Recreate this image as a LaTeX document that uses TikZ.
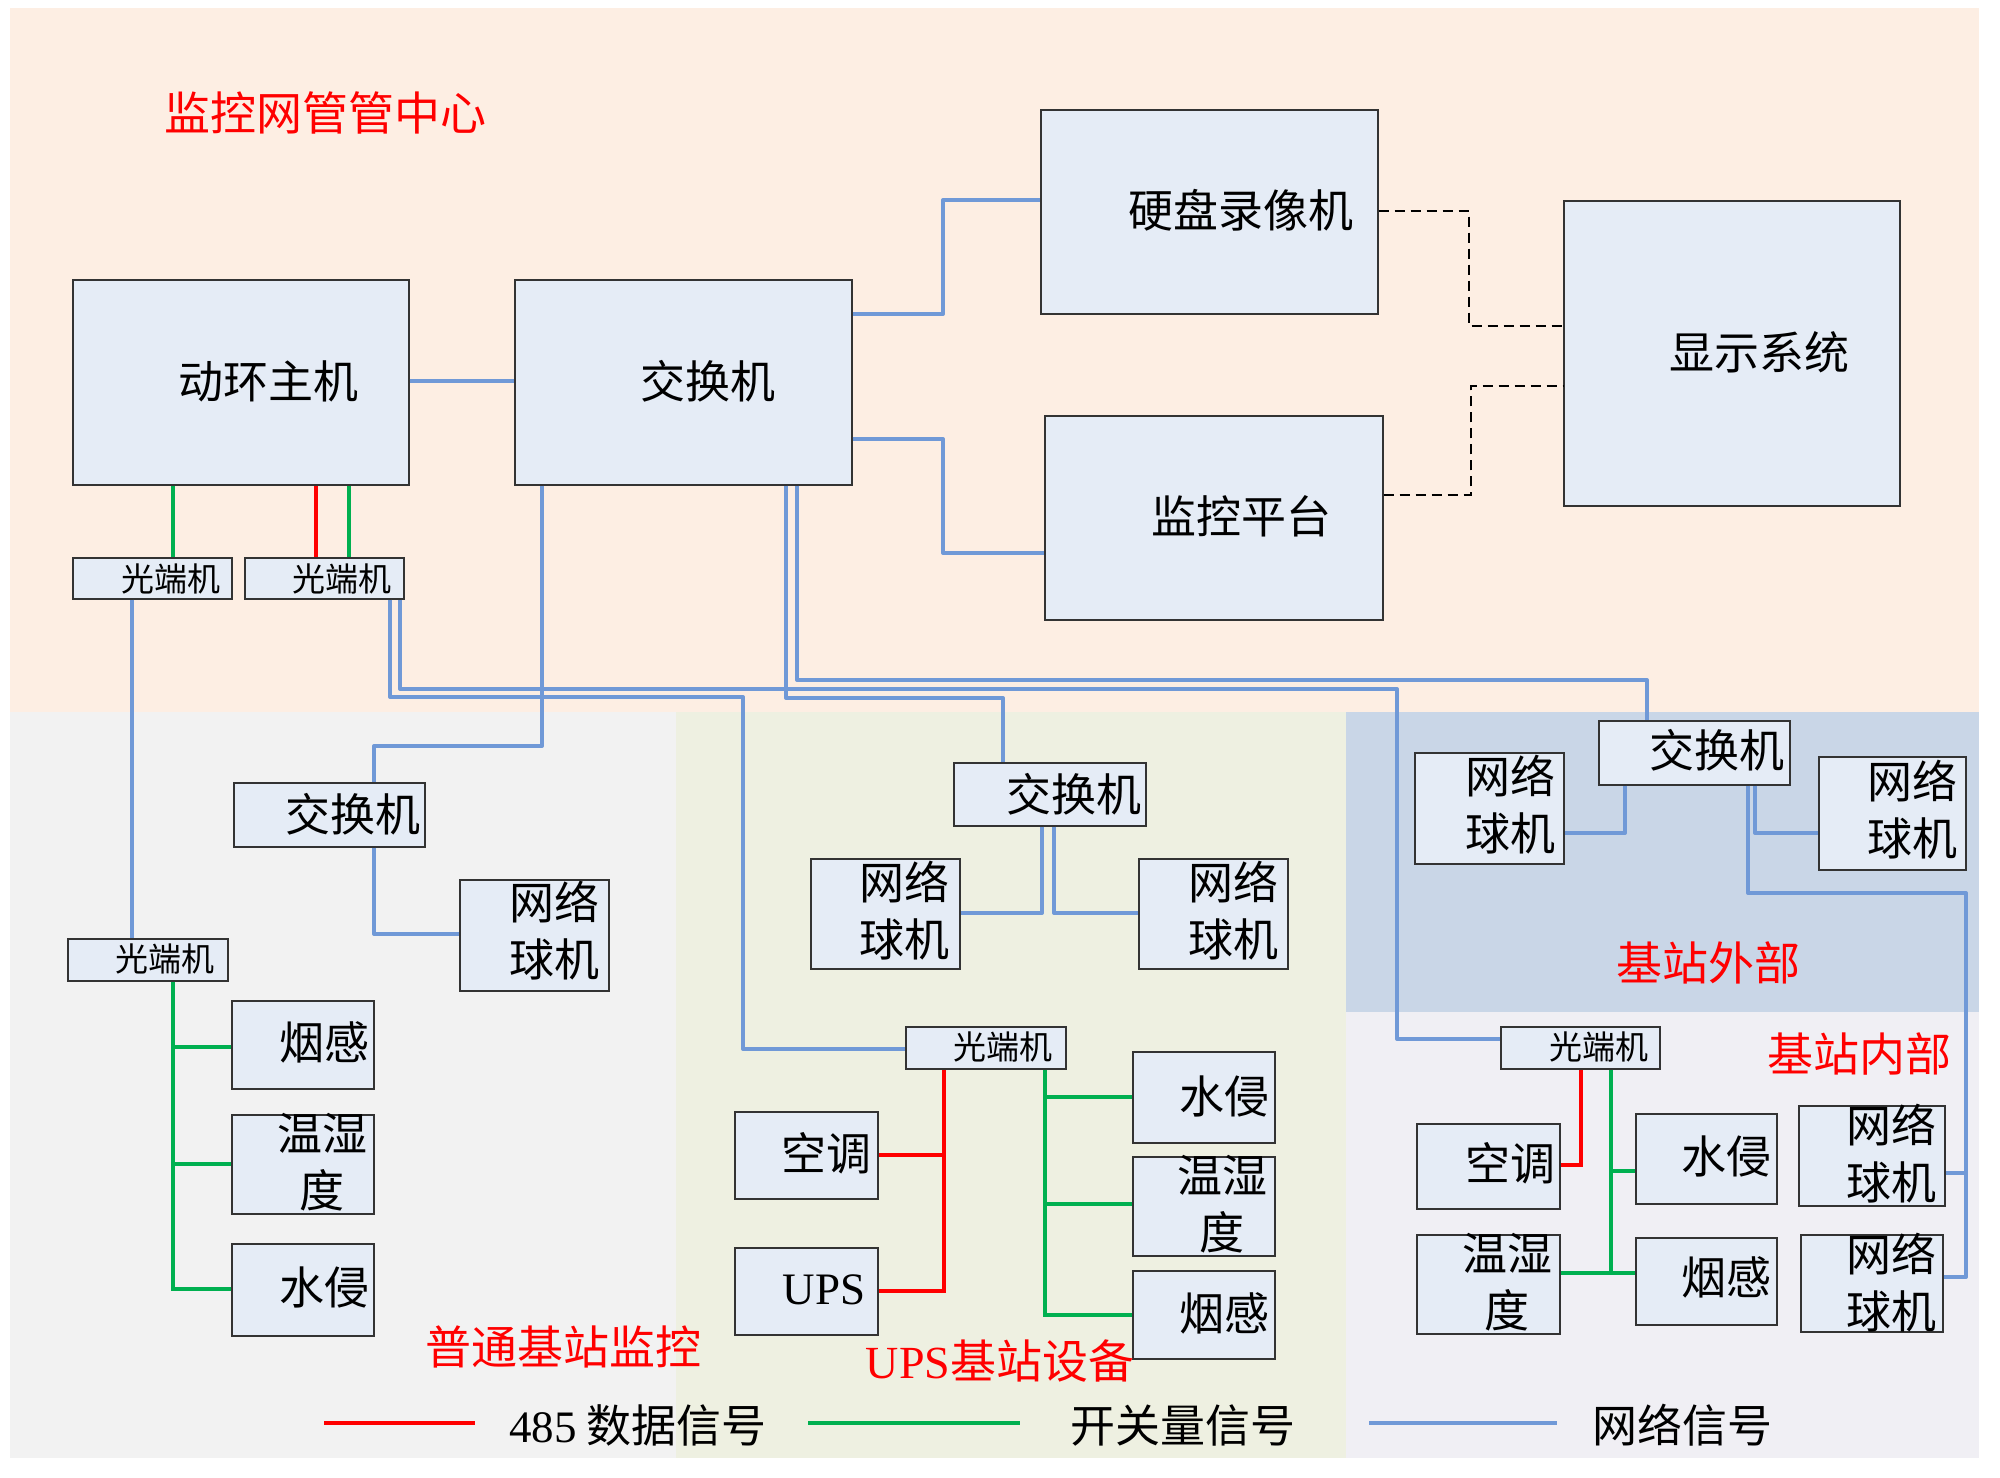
\documentclass[tikz,border=0pt]{standalone}
\usepackage{fontspec}
\setmainfont{Liberation Serif}
\newfontfamily\cjk{Noto Sans CJK SC}
\usetikzlibrary{fit}
\definecolor{peach}{HTML}{FDEEE3}
\definecolor{graybg}{HTML}{F2F2F2}
\definecolor{greenbg}{HTML}{EEF0E1}
\definecolor{bluebg}{HTML}{C9D6E7}
\definecolor{lavbg}{HTML}{F0EFF4}
\definecolor{boxfill}{HTML}{E5ECF6}
\definecolor{netblue}{HTML}{7099D7}
\definecolor{swgreen}{HTML}{00B050}
\newcommand\mybox[5]{\node[box, fit={(#2,#3) (#4,#5)}] (#1) {};}
\begin{document}
\begin{tikzpicture}[x=0.5pt,y=-0.5pt,
  box/.style={draw=black!80, fill=boxfill, line width=0.7pt, inner sep=0pt},
  txt/.style={font=\cjk\fontsize{22.5}{28.5}\selectfont, inner sep=0pt, align=center},
  stxt/.style={font=\cjk\fontsize{16.5}{20}\selectfont, inner sep=0pt},
  rtxt/.style={font=\cjk\fontsize{23}{28}\selectfont, inner sep=0pt, text=red},
  net/.style={draw=netblue, line width=2pt, line join=round},
  rs/.style={draw=red, line width=2pt},
  gs/.style={draw=swgreen, line width=2pt},
  dsh/.style={draw=black, line width=0.8pt, dash pattern=on 5pt off 3pt}]
\useasboundingbox (0,0) rectangle (2000,1477);
% backgrounds
\fill[peach] (10,8) rectangle (1979,712);
\fill[graybg] (10,712) rectangle (676,1458);
\fill[greenbg] (676,712) rectangle (1346,1458);
\fill[bluebg] (1346,712) rectangle (1979,1012);
\fill[lavbg] (1346,1012) rectangle (1979,1458);
% boxes
\mybox{dh}{73}{280}{409}{485}
\mybox{sw0}{515}{280}{852}{485}
\mybox{nvr}{1041}{110}{1378}{314}
\mybox{plat}{1045}{416}{1383}{620}
\mybox{disp}{1564}{201}{1900}{506}
\mybox{o1}{73}{558}{232}{599}
\mybox{o2}{245}{558}{404}{599}
\mybox{swL}{234}{783}{425}{847}
\mybox{camL}{460}{880}{609}{991}
\mybox{o3}{68}{939}{228}{981}
\mybox{smokeL}{232}{1001}{374}{1089}
\mybox{thL}{232}{1115}{374}{1214}
\mybox{waterL}{232}{1244}{374}{1336}
\mybox{swM}{954}{763}{1146}{826}
\mybox{camMa}{811}{859}{960}{969}
\mybox{camMb}{1139}{859}{1288}{969}
\mybox{oM}{906}{1027}{1066}{1069}
\mybox{acM}{735}{1112}{878}{1199}
\mybox{ups}{735}{1248}{878}{1335}
\mybox{waterM}{1133}{1052}{1275}{1143}
\mybox{thM}{1133}{1157}{1275}{1256}
\mybox{smokeM}{1133}{1271}{1275}{1359}
\mybox{swR}{1599}{721}{1790}{785}
\mybox{camRa}{1415}{753}{1564}{864}
\mybox{camRb}{1819}{757}{1966}{870}
\mybox{oR}{1501}{1027}{1660}{1069}
\mybox{acR}{1417}{1124}{1560}{1209}
\mybox{waterR}{1636}{1114}{1777}{1204}
\mybox{smokeR}{1636}{1238}{1777}{1325}
\mybox{thR}{1417}{1235}{1560}{1334}
\mybox{camRc}{1799}{1106}{1945}{1206}
\mybox{camRd}{1801}{1235}{1943}{1332}
% texts
\node[rtxt] (tA) at (325,113) {监控网管管中心};
\node[txt] (t1) at (268,381) {动环主机};
\node[txt] (t2) at (708,381) {交换机};
\node[txt] (t3) at (1241,210) {硬盘录像机};
\node[txt] (t4) at (1241,516) {监控平台};
\node[txt] (t5) at (1759,352) {显示系统};
\node[stxt] (t6) at (171,579) {光端机};
\node[stxt] (t7) at (342,579) {光端机};
\node[txt] (t8) at (353,814) {交换机};
\node[txt] (t9) at (554,931) {网络\\球机};
\node[stxt] (t10) at (165,959) {光端机};
\node[txt] (t11) at (324,1042) {烟感};
\node[txt] (t12) at (322,1162) {温湿\\度};
\node[txt] (t13) at (324,1287) {水侵};
\node[txt] (t14) at (1074,794) {交换机};
\node[txt] (t15) at (904,911) {网络\\球机};
\node[txt] (t16) at (1233,911) {网络\\球机};
\node[stxt] (t17) at (1003,1047) {光端机};
\node[txt] (t18) at (826,1153) {空调};
\node[font=\fontsize{22.5}{27}\selectfont, inner sep=0pt] (t19) at (824,1290) {UPS};
\node[txt] (t20) at (1224,1096) {水侵};
\node[txt] (t21) at (1222,1204) {温湿\\度};
\node[txt] (t22) at (1224,1313) {烟感};
\node[rtxt] (tB) at (563,1347) {普通基站监控};
\node[rtxt] (tC) at (1000,1361) {{\rmfamily UPS}基站设备};
\node[txt] (t23) at (1717,750) {交换机};
\node[txt] (t24) at (1510,805) {网络\\球机};
\node[txt] (t25) at (1912,810) {网络\\球机};
\node[rtxt] (tD) at (1708,963) {基站外部};
\node[rtxt] (tE) at (1859,1054) {基站内部};
\node[stxt] (t26) at (1599,1047) {光端机};
\node[txt] (t27) at (1510,1163) {空调};
\node[txt] (t28) at (1726,1156) {水侵};
\node[txt] (t29) at (1507,1282) {温湿\\度};
\node[txt] (t30) at (1726,1277) {烟感};
\node[txt] (t31) at (1891,1154) {网络\\球机};
\node[txt] (t32) at (1891,1283) {网络\\球机};
% top connectors
\draw[net] (dh.east |- 0,381) -- (sw0.west |- 0,381);
\draw[net] (sw0.east |- 0,314) -- (943,314) -- (943,200) -- (nvr.west |- 0,200);
\draw[net] (sw0.east |- 0,439) -- (943,439) -- (943,553) -- (plat.west |- 0,553);
\draw[dsh] (nvr.east |- 0,211) -- (1469,211) -- (1469,326) -- (disp.west |- 0,326);
\draw[dsh] (plat.east |- 0,495) -- (1471,495) -- (1471,386) -- (disp.west |- 0,386);
\draw[gs] (dh.south -| 173,0) -- (o1.north -| 173,0);
\draw[rs] (dh.south -| 316,0) -- (o2.north -| 316,0);
\draw[gs] (dh.south -| 349,0) -- (o2.north -| 349,0);
% long network lines
\draw[net] (o1.south -| 132,0) -- (o3.north -| 132,0);
\draw[net] (o2.south -| 400,0) -- (400,689) -- (1397,689) -- (1397,1039) -- (oR.west |- 0,1039);
\draw[net] (o2.south -| 390,0) -- (390,697) -- (743,697) -- (743,1049) -- (oM.west |- 0,1049);
\draw[net] (sw0.south -| 542,0) -- (542,746) -- (374,746) -- (swL.north -| 374,0);
\draw[net] (sw0.south -| 786,0) -- (786,698) -- (1003,698) -- (swM.north -| 1003,0);
\draw[net] (sw0.south -| 797,0) -- (797,680) -- (1647,680) -- (swR.north -| 1647,0);
% switches to cameras
\draw[net] (swL.south -| 374,0) -- (374,934) -- (camL.west |- 0,934);
\draw[net] (swM.south -| 1042,0) -- (1042,913) -- (camMa.east |- 0,913);
\draw[net] (swM.south -| 1054,0) -- (1054,913) -- (camMb.west |- 0,913);
\draw[net] (swR.south -| 1625,0) -- (1625,833) -- (camRa.east |- 0,833);
\draw[net] (swR.south -| 1755,0) -- (1755,833) -- (camRb.west |- 0,833);
\coordinate (jR) at (1966,1173);
\draw[net] (swR.south -| 1748,0) -- (1748,893) -- (1966,893) -- (1966,1277) -- (camRd.east |- 0,1277);
\draw[net] (jR) -- (camRc.east |- jR);
% left station
\draw[gs] (o3.south -| 173,0) -- (173,1289) -- (waterL.west |- 0,1289);
\draw[gs] (173,1047) -- (smokeL.west |- 0,1047);
\draw[gs] (173,1164) -- (thL.west |- 0,1164);
% middle station
\draw[rs] (oM.south -| 944,0) -- (944,1291) -- (ups.east |- 0,1291);
\draw[rs] (944,1155) -- (acM.east |- 0,1155);
\draw[gs] (oM.south -| 1045,0) -- (1045,1315) -- (smokeM.west |- 0,1315);
\draw[gs] (1045,1097) -- (waterM.west |- 0,1097);
\draw[gs] (1045,1204) -- (thM.west |- 0,1204);
% right station
\draw[rs] (oR.south -| 1581,0) -- (1581,1165) -- (acR.east |- 0,1165);
\draw[gs] (oR.south -| 1611,0) -- (1611,1273) -- (smokeR.west |- 0,1273);
\draw[gs] (1611,1171) -- (waterR.west |- 0,1171);
\draw[gs] (thR.east |- 0,1273) -- (1611,1273);
% legend
\coordinate (la1) at (324,1423); \coordinate (la2) at (475,1423);
\coordinate (lb1) at (808,1423); \coordinate (lb2) at (1020,1423);
\coordinate (lc1) at (1369,1423); \coordinate (lc2) at (1557,1423);
\draw[rs] (la1) -- (la2);
\draw[gs] (lb1) -- (lb2);
\draw[net] (lc1) -- (lc2);
\node[txt, anchor=west] (L1) at (509,1425) {{\rmfamily 485} 数据信号};
\node[txt, anchor=west] (L2) at (1070,1425) {开关量信号};
\node[txt, anchor=west] (L3) at (1592,1425) {网络信号};
\end{tikzpicture}
\end{document}
